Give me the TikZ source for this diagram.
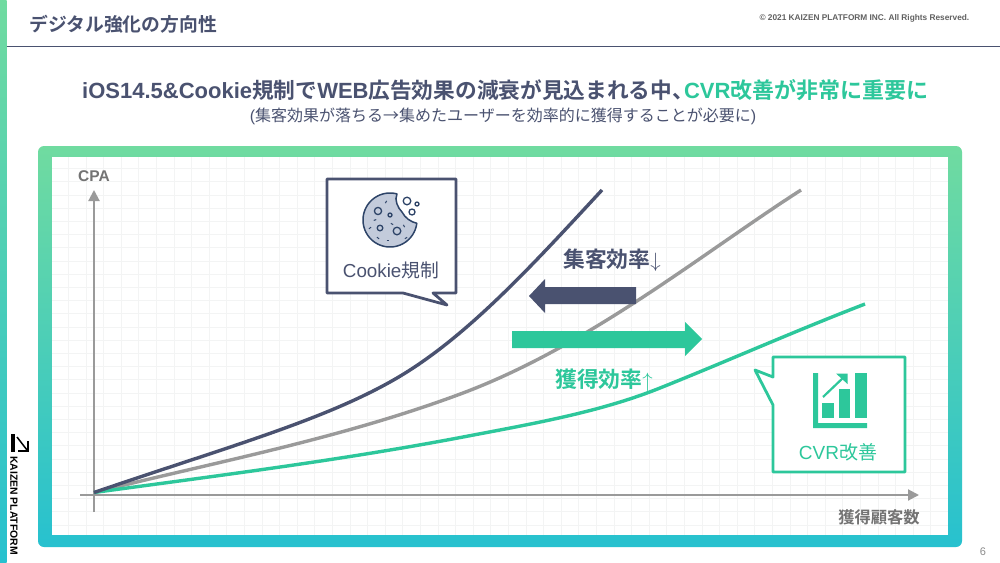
\documentclass[tikz,border=0pt]{standalone}
\usepackage{fontspec}
\setmainfont{Liberation Sans}
\newfontfamily\cjk{Noto Sans CJK JP}[BoldFont={Noto Sans CJK JP Bold}]
\newcommand{\hjp}[1]{{\cjk\fontsize{21.7}{22}\selectfont #1}}
\usetikzlibrary{arrows.meta}
\definecolor{navy}{HTML}{4A5270}
\definecolor{mint}{HTML}{2DC79B}
\definecolor{axisgray}{HTML}{9A9A9A}
\definecolor{gridgray}{HTML}{F3F4F4}
\definecolor{framegreen}{HTML}{70DBA0}
\definecolor{frameblue}{HTML}{27C1CF}
\definecolor{cookiefill}{HTML}{C3CBDB}
\definecolor{cookieline}{HTML}{2E4468}
\tikzset{
    txt/.style={inner sep=0pt, text=#1},
    curveline/.style={line width=3.4pt, #1},
    axisline/.style={line width=2pt, axisgray, -{Triangle[length=11pt,width=11pt]}},
    bubble/.style={line width=2.8pt, line join=round, fill=white, draw=#1},
    hole/.style={draw=cookieline, line width=1.3pt, fill=cookiefill}
}

\begin{document}
\begin{tikzpicture}[x=1pt,y=-1pt]
    \useasboundingbox (0,0) rectangle (1000,562);
    \fill[white] (0,0) rectangle (1000,562);

    % header
    \shade[top color=framegreen, bottom color=frameblue] (0,0) rectangle (6.5,562);
    \coordinate (ruleL) at (6.5,46.5);
    \coordinate (ruleR) at (1000,46.5);
    \draw[navy, line width=1pt] (ruleL) -- (ruleR);
    \node[txt=navy, anchor=west] (pagetitle) at (29,24) {\cjk\bfseries\fontsize{18.8}{19}\selectfont デジタル強化の方向性};
    \node[txt=black!62, anchor=east] (copyright) at (969.5,18) {\bfseries\fontsize{8.3}{9}\selectfont © 2021 KAIZEN PLATFORM INC. All Rights Reserved.};
    \node[txt=navy, anchor=west] (headline) at (82,90) {\bfseries\fontsize{22}{22}\selectfont iOS14.5\&Cookie\hjp{規制で}WEB\hjp{広告効果の減衰が見込まれる中、}\hspace{-10pt}\textcolor{mint}{CVR{\cjk\fontsize{22}{22}\selectfont 改善が非常に重要に}}};
    \node[txt=navy] (subline) at (503,116) {\fontsize{16}{16}\selectfont ({\cjk 集客効果が落ちる→集めたユーザーを効率的に獲得することが必要に})};

    % frame
    \shade[top color=framegreen, bottom color=frameblue, rounded corners=6pt] (38,146) rectangle (962,547);
    \fill[white] (52,157) rectangle (948,535);
    \foreach \gx in {68.3,85.9,...,948} \draw[gridgray, line width=.8pt] (\gx,157) -- (\gx,535);
    \foreach \gy in {168.6,181.8,...,535} \draw[gridgray, line width=.8pt] (52,\gy) -- (948,\gy);

    % axes
    \coordinate (yStart) at (94,512);
    \coordinate (yEnd) at (94,190);
    \coordinate (xStart) at (80,495);
    \coordinate (xEnd) at (919,495);
    \draw[axisline] (yStart) -- (yEnd);
    \draw[axisline] (xStart) -- (xEnd);
    \node[txt=black!55] (cpa) at (94,176) {\bfseries\fontsize{15.5}{16}\selectfont CPA};
    \node[txt=black!55] (customers) at (879,517) {\cjk\bfseries\fontsize{16.3}{17}\selectfont 獲得顧客数};

    % curves
    \coordinate (origin) at (94,492.5);
    \draw[curveline=axisgray] (origin) .. controls (215,462) and (340,439) .. (463,393) .. controls (590,345) and (700,255) .. (801,190);
    \draw[curveline=mint] (origin) .. controls (215,476) and (340,460.4) .. (463,437) .. controls (535,423.3) and (600,412) .. (660,388) .. controls (730,360) and (790,333) .. (865,304);
    \draw[curveline=navy] (origin) .. controls (230,446) and (325,420) .. (397,378) .. controls (467,337) and (532,265.6) .. (602,190);

    % bubbles
    \draw[bubble=navy] (327,179) -- (456,179) -- (456,293) -- (433,293) -- (447,305) -- (403,293) -- (327,293) -- cycle;
    \draw[bubble=mint] (773,357) -- (905,357) -- (905,472) -- (773,472) -- (773,405) -- (755,370) -- (773,377) -- cycle;
    \node[txt=navy] (cookielabel) at (391,270) {\fontsize{18.8}{19}\selectfont Cookie{\cjk 規制}};
    \node[txt=mint] (cvrlabel) at (838,452) {\fontsize{19}{19}\selectfont CVR{\cjk 改善}};

    % cookie icon
    \draw[fill=cookiefill, draw=cookieline, line width=1.5pt, line join=round]
        plot[domain=75:353, samples=60] ({390+27*cos(\x)},{220-27*sin(\x)}) .. controls (411,222) and (405,218) .. (402,212) .. controls (398,208) and (394,200) .. cycle;
    \draw[hole] (378,211) circle (3.6);
    \draw[hole] (390,215) circle (2);
    \draw[hole] (380,228) circle (2.8);
    \draw[hole] (397,231) circle (3.8);
    \draw[hole, fill=white] (407,201) circle (3.8);
    \draw[hole, fill=white] (417,204) circle (2);
    \draw[hole, fill=white] (412,212) circle (3);
    \foreach \cx/\cy/\cr in {386/202/60,375/220/20,392/224/-30,404/226/-60,388/240/0,370/228/40,378/238/-40,406/238/30}
        \draw[cookieline, line width=1pt, rotate around={\cr:(\cx,\cy)}] (\cx-1.3,\cy) -- (\cx+1.3,\cy);

    % chart icon
    \fill[mint] (813,373) -- (818,373) -- (818,423) -- (867,423) -- (867,428) -- (813,428) -- cycle;
    \fill[mint] (822,403) rectangle (834,418);
    \fill[mint] (839,389) rectangle (850,418);
    \fill[mint] (855,373) rectangle (867,418);
    \draw[mint, line width=2.2pt] (823,397) -- (845,376);
    \fill[mint] (836,373.5) -- (847.5,373.5) -- (847.5,384) -- cycle;

    % block arrows
    \fill[navy] (636,287) -- (545,287) -- (545,279) -- (529,296) -- (545,313) -- (545,304) -- (636,304) -- cycle;
    \fill[mint] (512,331) -- (685,331) -- (685,322) -- (702,339) -- (685,356) -- (685,348) -- (512,348) -- cycle;
    \node[txt=navy, anchor=west] (acquire) at (563,260) {\fontsize{21.8}{22}\selectfont {\cjk\bfseries 集客効率}$\downarrow$};
    \node[txt=mint, anchor=west] (obtain) at (555,380) {\fontsize{21.8}{22}\selectfont {\cjk\bfseries 獲得効率}$\uparrow$};

    % logo
    \fill[black] (11,434) rectangle (14.5,452);
    \draw[black, line width=1.5pt] (17,437) -- (27,450);
    \draw[black, line width=1.5pt] (28,441) -- (28,451) -- (18,451);
    \node[txt=black, anchor=west, rotate=-90] (brand) at (14,456) {\bfseries\fontsize{10.4}{11}\selectfont KAIZEN PLATFORM};

    \node[txt=black!45] (pagenum) at (983,552) {\fontsize{11}{11}\selectfont 6};
\end{tikzpicture}
\end{document}
